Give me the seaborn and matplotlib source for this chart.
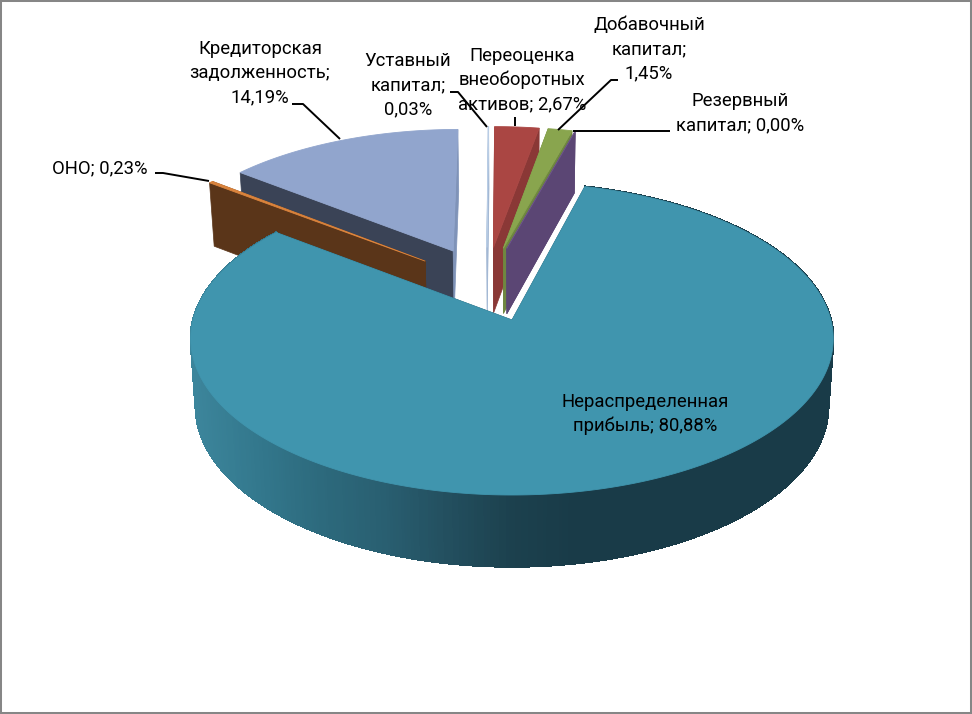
import matplotlib
matplotlib.use("Agg")
import matplotlib.pyplot as plt
import numpy as np
import seaborn as sns

categories = ["Уставный капитал", "Переоценка внеоборотных активов", "Добавочный капитал",
              "Резервный капитал", "Нераспределенная прибыль", "ОНО", "Кредиторская задолженность"]
values = [0.03, 2.67, 1.45, 0.00, 80.88, 0.23, 14.19]
label_texts = ["Уставный\nкапитал;\n0,03%", "Переоценка\nвнеоборотных\nактивов; 2,67%",
               "Добавочный\nкапитал;\n1,45%", "Резервный\nкапитал; 0,00%",
               "Нераспределенная\nприбыль; 80,88%", "ОНО; 0,23%",
               "Кредиторская\nзадолженность;\n14,19%"]

top_colors = ["#b9cde5", "#aa4643", "#89a54e", "#71588f", "#4095ae", "#db843d", "#91a5cd"]
start_wall_colors = ["#a3b8d4", "#8a3836", "#6f8740", "#5b4674", "#1a3d4a", "#5a3519", "#3a4356"]
end_wall_colors = ["#a3b8d4", "#8a3836", "#6f8740", "#5b4674", "#1a3d4a", "#5a3519", "#7f93b8"]
main_wall = ["#3c859b", "#33788d", "#2d6a7d", "#295f71", "#234f5f", "#1c414e", "#193b48", "#193b48"]

label_pos = [(408, 85), (522, 80), (649, 49), (740, 113), (645, 414), (100, 168), (260, 73)]
leaders = [[(450, 92), (458, 92), (487, 127)],
           [(515, 117), (515, 126)],
           [(618, 80), (611, 80), (558, 130)],
           [(670, 131), (573, 131)],
           [(155, 173), (163, 173), (209, 181)],
           [(292, 104), (303, 104), (340, 139)]]

# perspective of the pie: top plane and bottom plane
CX = 512
TOP = dict(cy=320, r=318.9, s=154)
BOTTOM = dict(cy=387, r=314, s=158)
K = 0.12
EXPLODE = 0.2565
ROTATE = np.radians(-0.25)
SMALL_R = 0.98


def project(u, v, plane):
    w = 1 + K * v
    return CX + plane["r"] * u / w, plane["cy"] - plane["s"] * v / w


sns.set_theme(style="white")
plt.rcParams["font.family"] = ["Roboto", "DejaVu Sans"]

fig, ax = plt.subplots(figsize=(9.72, 7.14), dpi=100)
fig.subplots_adjust(0, 0, 1, 1)
ax.set_xlim(0, 972)
ax.set_ylim(714, 0)
ax.set_xticks([])
ax.set_yticks([])
for sp in ax.spines.values():
    sp.set_color("#868686")
    sp.set_linewidth(2.9)

shares = np.array(values) / sum(values) * 2 * np.pi
ends = np.cumsum(shares) + ROTATE
starts = ends - shares
mids = (starts + ends) / 2

# whole pie centre, the big slice's apex sits at the origin
main = int(np.argmax(values))
cu = -EXPLODE * np.sin(mids[main])
cv = -EXPLODE * np.cos(mids[main])

# back slices first, the big one last
order = [0, 6, 5, 1, 2, 3, 4]
shade = sns.blend_palette(main_wall, 200)

for i in order:
    au = cu + EXPLODE * np.sin(mids[i])
    av = cv + EXPLODE * np.cos(mids[i])
    n = max(2, int(np.degrees(shares[i]) * 2))
    t = np.linspace(starts[i], ends[i], n)
    rad = 1 if i == main else SMALL_R
    u = au + rad * np.sin(t)
    v = av + rad * np.cos(t)
    tx, ty = project(u, v, TOP)
    bx, by = project(u, v, BOTTOM)
    ax0, ay0 = project(au, av, TOP)
    bx0, by0 = project(au, av, BOTTOM)

    # radial walls
    ax.fill([ax0, tx[0], bx[0], bx0], [ay0, ty[0], by[0], by0],
            color=start_wall_colors[i], lw=0.5, zorder=2)
    ax.fill([ax0, tx[-1], bx[-1], bx0], [ay0, ty[-1], by[-1], by0],
            color=end_wall_colors[i], lw=0.5, zorder=2)

    # outer wall only faces us on the big slice, cut in strips for its shading
    if i == main:
        for j in range(n - 1):
            pos = np.clip((tx[j] - 190) / 450, 0, 0.999)
            ax.fill([tx[j], tx[j + 1], bx[j + 1], bx[j]], [ty[j], ty[j + 1], by[j + 1], by[j]],
                    color=shade[int(pos * 200)], lw=1.0, antialiased=False, zorder=2)

    ax.fill(np.r_[ax0, tx], np.r_[ay0, ty], color=top_colors[i], lw=0.6, zorder=2)

for pts in leaders:
    xs, ys = zip(*pts)
    ax.plot(xs, ys, color="black", lw=1.4, zorder=3, solid_capstyle="butt")

for txt, (x, y) in zip(label_texts, label_pos):
    ax.text(x, y, txt, ha="center", va="center", fontsize=13.3, color="black",
            linespacing=1.42, zorder=4)

fig.savefig("out.png", dpi=100)
